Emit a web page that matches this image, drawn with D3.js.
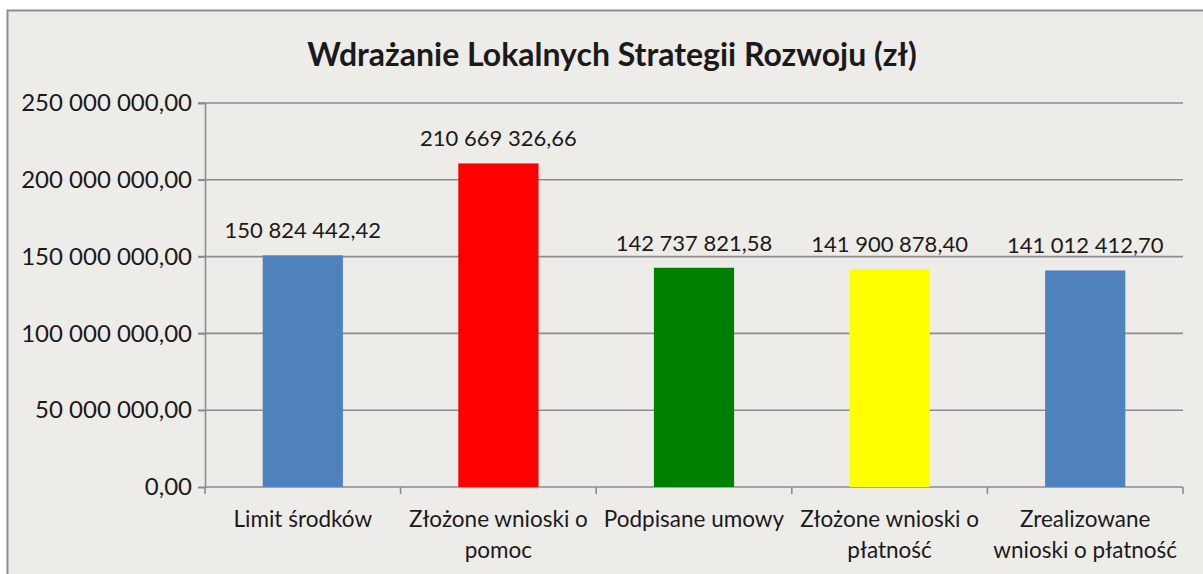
<!DOCTYPE html>
<html>
<head>
<meta charset="utf-8">
<title>Wdrażanie Lokalnych Strategii Rozwoju</title>
<script src="https://d3js.org/d3.v7.min.js"></script>
<style>
body { margin: 0; background: #fff; }
text { font-family: Lato, "Open Sans", sans-serif; fill: #1a1a1a; }
</style>
</head>
<body>
<div id="chart"></div>
<script>
var categories = [
  ["Limit środków"],
  ["Złożone wnioski o", "pomoc"],
  ["Podpisane umowy"],
  ["Złożone wnioski o", "płatność"],
  ["Zrealizowane", "wnioski o płatność"]
];
var values = [150824442.42, 210669326.66, 142737821.58, 141900878.40, 141012412.70];
var barColors = ["#4f81bd", "#ff0000", "#008000", "#ffff00", "#4f81bd"];
var yTicks = [0, 50000000, 100000000, 150000000, 200000000, 250000000];
var title = "Wdrażanie Lokalnych Strategii Rozwoju (zł)";

var w = 1203, h = 574;
var margin = {left: 205, right: 20, top: 103, bottom: 87};

// polish number format: space thousands, comma decimals
var pl = d3.formatLocale({decimal: ",", thousands: "\u2009", grouping: [3], currency: ["", " zł"]});
var fmt = function(v) { return pl.format(",.2f")(v).replace(/\u2009/g, " "); };

var svg = d3.select("#chart").append("svg")
  .attr("width", w)
  .attr("height", h);

// chart box
svg.append("rect")
  .attr("x", 7.5).attr("y", 10.5)
  .attr("width", w + 10).attr("height", h + 10)
  .attr("fill", "#eeece9")
  .attr("stroke", "#8e8e8e")
  .attr("stroke-width", 2);

var x = d3.scaleBand()
  .domain(d3.range(categories.length))
  .range([margin.left, 1183])
  .paddingInner(0.59)
  .paddingOuter(0.295);

var y = d3.scaleLinear()
  .domain([0, 250000000])
  .range([h - margin.bottom, margin.top]);

// gridlines
svg.append("g")
  .selectAll("line")
  .data(yTicks.slice(1))
  .join("line")
  .attr("x1", margin.left - 7)
  .attr("x2", 1183)
  .attr("y1", function(d) { return y(d); })
  .attr("y2", function(d) { return y(d); })
  .attr("stroke", "#8c8c8c")
  .attr("stroke-width", 1.6);

// y axis
var yAxis = svg.append("g")
  .attr("transform", "translate(" + margin.left + ",0)")
  .call(d3.axisLeft(y).tickValues(yTicks).tickFormat(fmt).tickSize(7).tickPadding(6));
yAxis.selectAll("line").attr("stroke", "#8c8c8c").attr("stroke-width", 1.6);
yAxis.select(".domain").attr("stroke", "#8c8c8c").attr("stroke-width", 1.6);
yAxis.selectAll("text").style("font-size", "24px").attr("fill", "#1a1a1a");

// x axis with ticks between categories
var xEdges = d3.range(categories.length + 1).map(function(i) {
  return margin.left + i * x.step();
});
var xAxis = svg.append("g");
xAxis.append("line")
  .attr("x1", margin.left).attr("x2", 1183)
  .attr("y1", y(0)).attr("y2", y(0))
  .attr("stroke", "#8c8c8c").attr("stroke-width", 1.6);
xAxis.selectAll(".tk")
  .data(xEdges)
  .join("line")
  .attr("class", "tk")
  .attr("x1", function(d) { return d; }).attr("x2", function(d) { return d; })
  .attr("y1", y(0)).attr("y2", y(0) + 7)
  .attr("stroke", "#8c8c8c").attr("stroke-width", 1.6);

// bars
svg.append("g")
  .selectAll("rect")
  .data(values)
  .join("rect")
  .attr("x", function(d, i) { return x(i); })
  .attr("width", x.bandwidth())
  .attr("y", function(d) { return y(d); })
  .attr("height", function(d) { return y(0) - y(d); })
  .attr("fill", function(d, i) { return barColors[i]; });

// value labels
svg.append("g")
  .selectAll("text")
  .data(values)
  .join("text")
  .attr("x", function(d, i) { return x(i) + x.bandwidth() / 2; })
  .attr("y", function(d) { return y(d) - 17; })
  .attr("text-anchor", "middle")
  .style("font-size", "22px")
  .text(fmt);

// category labels
var cat = svg.append("g")
  .selectAll("text")
  .data(categories)
  .join("text")
  .attr("x", function(d, i) { return x(i) + x.bandwidth() / 2; })
  .attr("y", y(0) + 40)
  .attr("text-anchor", "middle")
  .style("font-size", "22.5px");
cat.selectAll("tspan")
  .data(function(d) { return d; })
  .join("tspan")
  .attr("x", function() { return d3.select(this.parentNode).attr("x"); })
  .attr("dy", function(d, i) { return i === 0 ? 0 : 31; })
  .text(function(d) { return d; });

// title
svg.append("text")
  .attr("x", 612)
  .attr("y", 66)
  .attr("text-anchor", "middle")
  .style("font-size", "32px")
  .style("font-weight", "bold")
  .text(title);
</script>
</body>
</html>
